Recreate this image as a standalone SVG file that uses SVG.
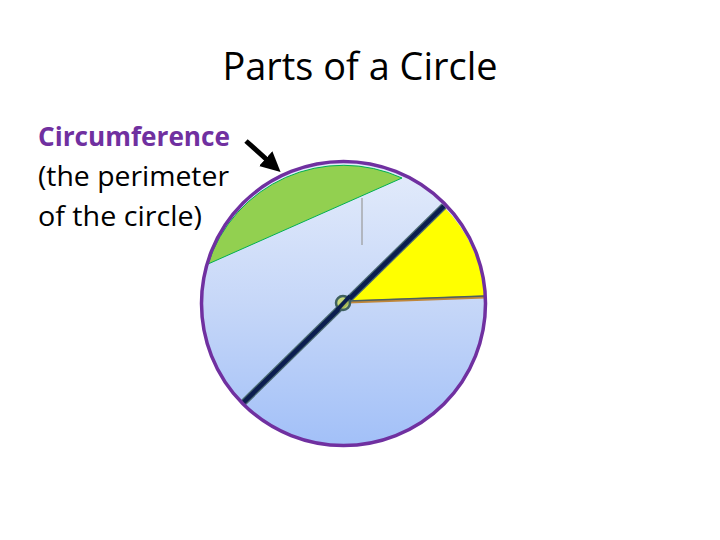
<svg xmlns="http://www.w3.org/2000/svg" width="720" height="540" viewBox="0 0 720 540">
<style>
.t{font-family:"Open Sans","Liberation Sans",sans-serif;fill:#000}
</style>
<defs>
<linearGradient id="bg" x1="0" y1="0" x2="0" y2="1">
<stop offset="0" stop-color="#e4ecfb"/>
<stop offset="0.5" stop-color="#c6d7f8"/>
<stop offset="1" stop-color="#a2c0f8"/>
</linearGradient>
<marker id="ah" markerWidth="4" markerHeight="4" refX="2.5" refY="2" orient="auto" markerUnits="strokeWidth">
<path d="M0,0 L4,2 L0,4 z" fill="#000"/>
</marker>
</defs>
<rect width="720" height="540" fill="#fff"/>
<text class="t" x="360" y="80" font-size="38" text-anchor="middle" textLength="275" lengthAdjust="spacingAndGlyphs">Parts of a Circle</text>
<g id="label">
<text class="t" x="38" y="146" font-size="27" font-weight="bold" style="fill:#7030a0" textLength="192" lengthAdjust="spacingAndGlyphs">Circumference</text>
<text class="t" x="38" y="186" font-size="27" textLength="191" lengthAdjust="spacingAndGlyphs">(the perimeter</text>
<text class="t" x="38" y="226" font-size="27" textLength="164" lengthAdjust="spacingAndGlyphs">of the circle)</text>
</g>
<g id="circle">
<circle cx="343.5" cy="303.5" r="142" fill="url(#bg)"/>
<path d="M208,264 L402,178 A142,142 0 0 0 208,264 Z" fill="#92d050" stroke="#00b050" stroke-width="1"/>
<line x1="362" y1="198" x2="362" y2="245" stroke="#999" stroke-width="1.2"/>
<path d="M346,302 L444,207 A142,142 0 0 1 485,297 Z" fill="#ffff00"/>
<line x1="348" y1="302" x2="485" y2="297" stroke="#c0873a" stroke-width="3"/>
<line x1="348" y1="301" x2="485" y2="296" stroke="#4a6060" stroke-width="1.5"/>
<line x1="444" y1="206" x2="243" y2="403" stroke="#4a6a70" stroke-width="7"/>
<line x1="444" y1="206" x2="243" y2="403" stroke="#0b1d4f" stroke-width="4.5"/>
<circle cx="343" cy="303" r="7" fill="#c8d95a" fill-opacity="0.8" stroke="#3f6060" stroke-width="2.5"/>
<line x1="350" y1="296" x2="337" y2="310" stroke="#0b1d4f" stroke-width="4"/>
<circle cx="343.5" cy="303.5" r="142" fill="none" stroke="#7030a0" stroke-width="3.5"/>
</g>
<g id="connectors">
<line x1="246" y1="141" x2="275" y2="167" stroke="#000" stroke-width="5" marker-end="url(#ah)"/>
</g>
</svg>
